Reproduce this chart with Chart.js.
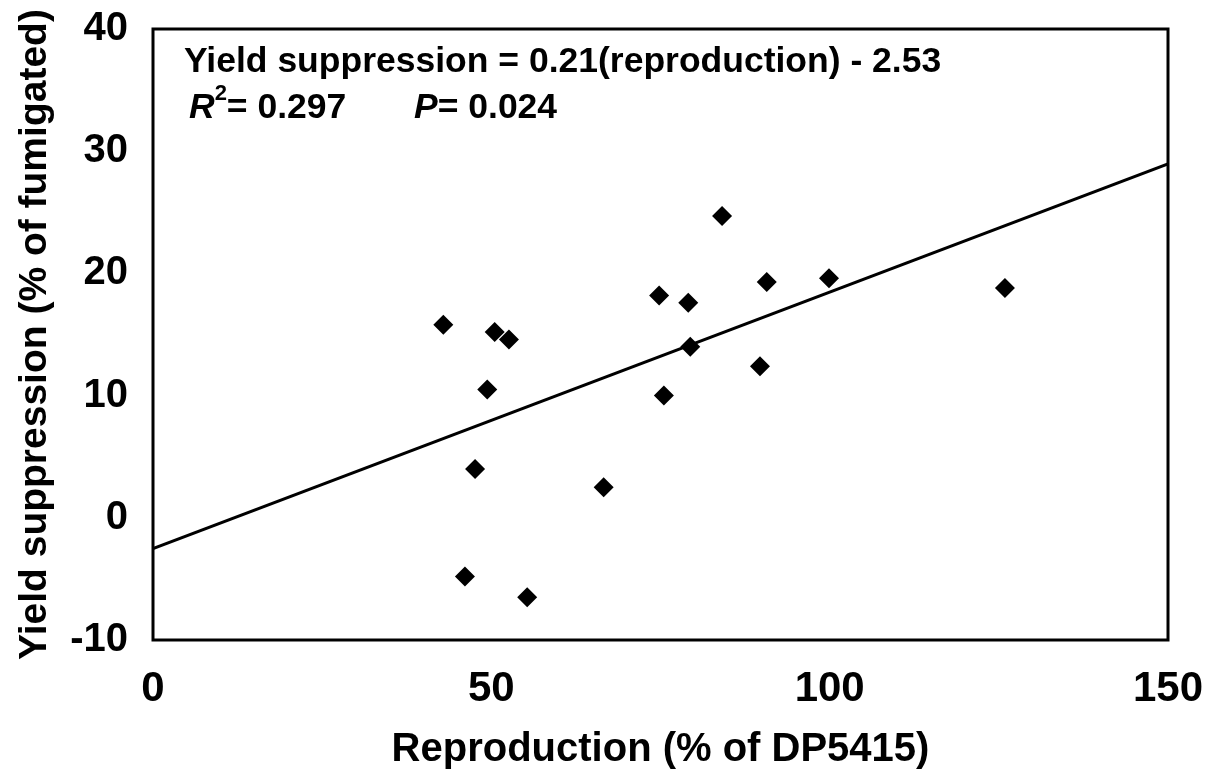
<!DOCTYPE html>
<html><head><meta charset="utf-8">
<script src="https://cdn.jsdelivr.net/npm/chart.js@4"></script>
<style>html,body{margin:0;padding:0;background:#fff}canvas{display:block}</style>
</head><body>
<canvas id="c" width="1216" height="778"></canvas>
<script>
const reproduction = [42.9, 50.5, 52.6, 49.4, 47.6, 46.1, 55.3, 66.6, 74.8, 75.5, 79.1, 79.4, 84.1, 89.7, 90.7, 99.9, 125.9];
const yieldSuppression = [15.8, 15.2, 14.6, 10.5, 4.0, -4.8, -6.5, 2.5, 18.2, 10.0, 17.6, 14.0, 24.7, 12.4, 19.3, 19.6, 18.8];
const slope = 0.21, intercept = -2.53;
const fitX = [0, 150];
const xTicks = [0, 50, 100, 150];
const yTicks = [-10, 0, 10, 20, 30, 40];
const xTitle = 'Reproduction (% of DP5415)';
const yTitle = 'Yield suppression (% of fumigated)';

const FONT = '"Liberation Sans", Arial, sans-serif';

const boxPlugin = {
  id: 'box',
  afterDraw(chart) {
    const {ctx, chartArea: a} = chart;
    ctx.save();
    ctx.strokeStyle = '#000';
    ctx.lineWidth = 3;
    ctx.strokeRect(a.left, a.top, a.right - a.left, a.bottom - a.top);
    ctx.fillStyle = '#000';
    ctx.textBaseline = 'alphabetic';
    ctx.font = 'bold 35.5px ' + FONT;
    ctx.fillText('Yield suppression = 0.21(reproduction) - 2.53', 184, 72);
    let x = 189;
    ctx.font = 'italic bold 35.5px ' + FONT;
    ctx.fillText('R', x, 118); x += ctx.measureText('R').width;
    ctx.font = 'bold 22px ' + FONT;
    ctx.fillText('2', x, 100); x += ctx.measureText('2').width;
    ctx.font = 'bold 35.5px ' + FONT;
    ctx.fillText('= 0.297', x, 118);
    x = 414;
    ctx.font = 'italic bold 35.5px ' + FONT;
    ctx.fillText('P', x, 118); x += ctx.measureText('P').width;
    ctx.font = 'bold 35.5px ' + FONT;
    ctx.fillText('= 0.024', x, 118);
    ctx.restore();
  }
};

new Chart(document.getElementById('c'), {
  type: 'scatter',
  data: {
    datasets: [
      {
        data: reproduction.map((v, i) => ({x: v, y: yieldSuppression[i]})),
        pointStyle: 'rectRot', pointRadius: 10, pointHoverRadius: 10,
        backgroundColor: '#000', borderColor: '#000', borderWidth: 0
      },
      {
        type: 'line',
        data: fitX.map(v => ({x: v, y: slope * v + intercept})),
        borderColor: '#000', borderWidth: 3, pointRadius: 0, fill: false
      }
    ]
  },
  options: {
    responsive: false, animation: false,
    layout: {padding: {left: 8, right: 48, top: 29, bottom: 0}},
    plugins: {legend: {display: false}, tooltip: {enabled: false}},
    scales: {
      x: {
        type: 'linear', min: 0, max: 150,
        afterBuildTicks: s => { s.ticks = xTicks.map(v => ({value: v})); },
        afterFit: s => { s.height = 138; s.paddingLeft = 0; s.paddingRight = 0; },
        grid: {display: false, drawTicks: false},
        border: {display: false},
        ticks: {color: '#000', padding: 24, maxRotation: 0, font: {family: FONT, size: 42, weight: 'bold'}},
        title: {display: true, text: xTitle, color: '#000', font: {family: FONT, size: 40, weight: 'bold'}}
      },
      y: {
        type: 'linear', min: -10, max: 40,
        afterBuildTicks: s => { s.ticks = yTicks.map(v => ({value: v})); },
        afterFit: s => { s.width = 145; s.paddingTop = 0; s.paddingBottom = 0; },
        grid: {display: false, drawTicks: false},
        border: {display: false},
        ticks: {color: '#000', padding: 25, font: {family: FONT, size: 40, weight: 'bold'}},
        title: {display: true, text: yTitle, color: '#000', font: {family: FONT, size: 39, weight: 'bold'}}
      }
    }
  },
  plugins: [boxPlugin]
});
</script>
</body></html>
